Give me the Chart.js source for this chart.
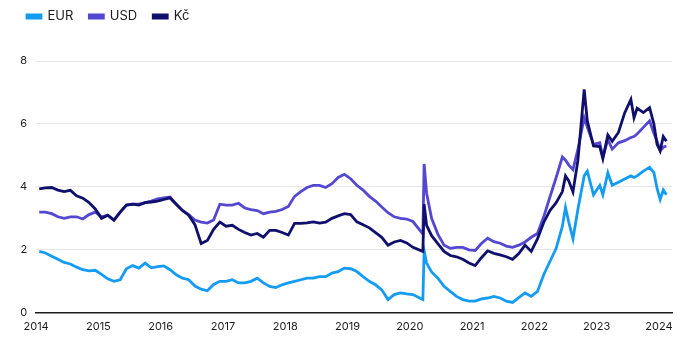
<!DOCTYPE html>
<html>
<head>
<meta charset="utf-8">
<script src="https://cdn.jsdelivr.net/npm/chart.js@4/dist/chart.umd.min.js"></script>
<style>
  html, body { margin: 0; padding: 0; background: #fff; }
  #wrap { width: 681px; height: 350px; }
</style>
</head>
<body>
<div id="wrap"><canvas id="chart"></canvas></div>
<script>
// časová osa (desetinné roky)
const dates = [
  2014.05, 2014.15, 2014.25, 2014.35, 2014.45, 2014.55, 2014.65, 2014.75, 2014.85, 2014.95,
  2015.05, 2015.15, 2015.25, 2015.35, 2015.45, 2015.55, 2015.65, 2015.75, 2015.85, 2015.95,
  2016.05, 2016.15, 2016.25, 2016.35, 2016.45, 2016.55, 2016.65, 2016.75, 2016.85, 2016.95,
  2017.05, 2017.15, 2017.25, 2017.35, 2017.45, 2017.55, 2017.65, 2017.75, 2017.85, 2017.95,
  2018.05, 2018.15, 2018.25, 2018.35, 2018.45, 2018.55, 2018.65, 2018.75, 2018.85, 2018.95,
  2019.05, 2019.15, 2019.25, 2019.35, 2019.45, 2019.55, 2019.65, 2019.75, 2019.85, 2019.95,
  2020.05, 2020.15, 2020.21, 2020.23, 2020.27, 2020.35, 2020.45, 2020.55, 2020.65, 2020.75, 2020.85, 2020.95,
  2021.05, 2021.15, 2021.25, 2021.35, 2021.45, 2021.55, 2021.65, 2021.75, 2021.85, 2021.95,
  2022.05, 2022.15, 2022.25, 2022.35, 2022.45, 2022.5, 2022.55, 2022.62, 2022.7, 2022.8, 2022.85, 2022.95,
  2023.05, 2023.1, 2023.18, 2023.25, 2023.35, 2023.45, 2023.55, 2023.6, 2023.65, 2023.75, 2023.85, 2023.92, 2023.97,
  2024.02, 2024.07, 2024.12
]

const eur = [
  1.95, 1.9, 1.8, 1.7, 1.6, 1.55, 1.45, 1.37, 1.33, 1.35,
  1.22, 1.08, 1.0, 1.05, 1.4, 1.5, 1.42, 1.58, 1.43, 1.47,
  1.49, 1.37, 1.21, 1.1, 1.05, 0.85, 0.75, 0.7, 0.9, 1.0,
  1.0, 1.05, 0.95, 0.95, 1.0, 1.1, 0.95, 0.84, 0.8, 0.89,
  0.95, 1.0, 1.05, 1.1, 1.1, 1.15, 1.15, 1.26, 1.31, 1.42,
  1.4, 1.31, 1.15, 1.0, 0.89, 0.73, 0.42, 0.58, 0.63, 0.6,
  0.58, 0.48, 0.42, 1.97, 1.58, 1.3, 1.1, 0.84, 0.68, 0.52, 0.42, 0.37,
  0.37, 0.44, 0.47, 0.52, 0.47, 0.37, 0.33, 0.48, 0.63, 0.52,
  0.68, 1.21, 1.63, 2.05, 2.75, 3.35, 2.9, 2.35, 3.3, 4.35, 4.5, 3.75,
  4.05, 3.75, 4.45, 4.05, 4.15, 4.25, 4.35, 4.3, 4.35, 4.5, 4.62, 4.45, 3.95,
  3.6, 3.9, 3.75
]

const usd = [
  3.2, 3.2, 3.15, 3.05, 3.0, 3.05, 3.05, 2.98, 3.12, 3.2,
  3.05, 3.1, 2.95, 3.2, 3.42, 3.45, 3.45, 3.5, 3.55, 3.62,
  3.65, 3.68, 3.45, 3.25, 3.12, 2.95, 2.88, 2.85, 2.95, 3.45,
  3.42, 3.42, 3.48, 3.33, 3.28, 3.25, 3.15, 3.2, 3.22, 3.28,
  3.38, 3.7, 3.85, 3.98, 4.05, 4.05, 3.98, 4.1, 4.3, 4.4,
  4.26, 4.05, 3.9, 3.7, 3.55, 3.36, 3.18, 3.05, 3.0, 2.98,
  2.9, 2.65, 2.5, 4.73, 3.8, 3.0, 2.5, 2.15, 2.05, 2.08, 2.08, 2.0,
  1.98, 2.2, 2.37, 2.26, 2.21, 2.12, 2.08, 2.15, 2.25, 2.4,
  2.52, 3.05, 3.68, 4.3, 4.95, 4.85, 4.7, 4.55, 5.2, 6.2, 5.9, 5.35,
  5.4, 4.95, 5.5, 5.2, 5.4, 5.47, 5.57, 5.6, 5.68, 5.89, 6.1, 5.7, 5.45,
  5.15, 5.26, 5.3
]

const czk = [
  3.94, 3.97, 3.98, 3.9, 3.85, 3.89, 3.72, 3.64, 3.5, 3.3,
  3.0, 3.1, 2.94, 3.2, 3.42, 3.45, 3.42, 3.5, 3.52, 3.55,
  3.6, 3.65, 3.45, 3.25, 3.1, 2.8, 2.2, 2.3, 2.65, 2.88,
  2.75, 2.78, 2.65, 2.55, 2.47, 2.52, 2.4, 2.62, 2.62, 2.55,
  2.47, 2.84, 2.84, 2.86, 2.89, 2.85, 2.88, 3.0, 3.08, 3.15,
  3.12, 2.89, 2.8, 2.7, 2.55, 2.4, 2.15, 2.25, 2.3, 2.22,
  2.08, 2.0, 1.95, 3.45, 2.78, 2.45, 2.2, 1.95, 1.82, 1.78, 1.7, 1.58,
  1.5, 1.75, 1.97, 1.89, 1.84, 1.78, 1.7, 1.88, 2.15, 1.95,
  2.35, 2.87, 3.25, 3.5, 3.85, 4.35, 4.2, 3.84, 4.85, 7.1, 6.1, 5.3,
  5.28, 4.9, 5.65, 5.45, 5.73, 6.35, 6.78, 6.2, 6.5, 6.36, 6.52, 5.99, 5.35,
  5.15, 5.6, 5.45
]

const seriesNames = ["EUR", "USD", "Kč"]
const seriesColors = ["#149cf3", "#5447d0", "#10106c"]
const yearTicks = [2014, 2015, 2016, 2017, 2018, 2019, 2020, 2021, 2022, 2023, 2024]

function toPoints(values) {
  return dates.map((d, i) => ({ x: d, y: values[i] }))
}

// legenda potřebuje víc místa pod sebou
const legendGap = {
  id: "legendGap",
  beforeInit(chart) {
    const fit = chart.legend.fit
    chart.legend.fit = function () {
      fit.bind(chart.legend)()
      this.height += 28
    }
  }
}

const allSeries = [eur, usd, czk]
const datasets = allSeries.map((vals, i) => ({
  label: seriesNames[i],
  data: toPoints(vals),
  borderColor: seriesColors[i],
  backgroundColor: seriesColors[i],
  borderWidth: 2.8,
  pointRadius: 0,
  tension: 0,
  order: 2 - i
}))

Chart.defaults.font.family = "Inter, 'Noto Sans', sans-serif"
Chart.defaults.color = "#1c1c1c"

new Chart(document.getElementById("chart"), {
  type: "line",
  data: { datasets: datasets },
  plugins: [legendGap],
  options: {
    responsive: true,
    maintainAspectRatio: false,
    animation: false,
    layout: { padding: { left: 11, right: 9, top: -6, bottom: 10 } },
    plugins: {
      tooltip: { enabled: false },
      legend: {
        position: "top",
        align: "start",
        labels: {
          boxWidth: 14,
          boxHeight: 3,
          padding: 16,
          font: { size: 13 },
          sort: (a, b) => a.datasetIndex - b.datasetIndex
        }
      }
    },
    scales: {
      x: {
        type: "linear",
        min: 2014,
        max: 2024.21,
        grid: { display: false, drawTicks: false },
        border: { display: true, color: "#1c1c1c", width: 1.5 },
        afterBuildTicks: (scale) => {
          scale.ticks = yearTicks.map(v => ({ value: v }))
        },
        ticks: {
          autoSkip: false,
          maxRotation: 0,
          padding: 7,
          font: { size: 11 },
          callback: (v) => String(v)
        }
      },
      y: {
        min: 0,
        max: 8,
        grid: { color: "#e6e6e6", lineWidth: 1, drawTicks: false },
        border: { display: false },
        ticks: { stepSize: 2, padding: 9, font: { size: 11 } }
      }
    }
  }
})
</script>
</body>
</html>
